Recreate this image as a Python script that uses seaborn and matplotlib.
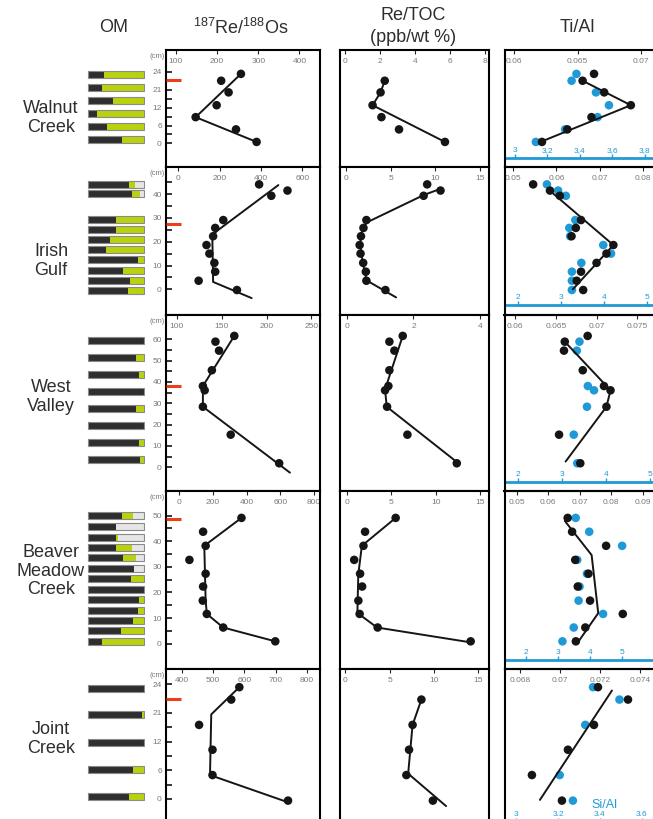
import numpy as np
import matplotlib.pyplot as plt
import seaborn as sns

nan = np.nan

# ---------------- data ----------------
# Walnut Creek
wc_depth = [23.3, 21.0, 17.1, 12.8, 8.8, 4.7, 0.5]
wc_reos = [258, 210, 228, 199, 148, 246, 296]
wc_retoc = [nan, 2.26, 2.02, 1.56, 2.07, 3.08, 5.72]
wc_tial = [0.0663, 0.0654, 0.0671, 0.0692, 0.0661, 0.0642, 0.0622]
wc_sial = [3.38, 3.35, 3.50, 3.58, 3.51, 3.31, 3.13]
wc_reos_fit_x = [258, 148, 296]
wc_reos_fit_d = [23.3, 8.8, 0.5]
wc_retoc_fit_x = [2.26, 2.02, 1.56, 5.72]
wc_retoc_fit_d = [21.0, 17.1, 12.8, 0.5]
wc_tial_fit_x = [0.0654, 0.0692, 0.0622]
wc_tial_fit_d = [21.0, 12.8, 0.7]
wc_om_depth = [23.2, 18.7, 14.5, 10.0, 5.6, 1.2]
wc_om_dark = [0.29, 0.26, 0.44, 0.17, 0.35, 0.60]
wc_om_green = [0.71, 0.74, 0.56, 0.83, 0.65, 0.40]
wc_red = 21.3

# Irish Gulf
ig_depth = [44.1, 41.5, 39.3, 29.1, 25.8, 22.3, 18.6, 15.0, 11.1, 7.4, 3.6, -0.3]
ig_reos = [391, 528, 450, 218, 179, 169, 137, 151, 175, 179, 99, 284]
ig_retoc = [9.1, 10.6, 8.7, 2.26, 1.93, 1.65, 1.5, 1.6, 1.9, 2.2, 2.26, 4.4]
ig_tial = [0.0546, 0.0585, 0.0608, 0.0657, 0.0645, 0.0635, 0.0732, 0.0716, 0.0693, 0.0657, 0.0647, 0.0662]
ig_sial = [2.68, 2.94, 3.12, 3.34, 3.20, 3.22, 3.99, 4.17, 3.48, 3.26, 3.26, 3.26]
ig_reos_fit_x = [484, 190, 165, 169, 355]
ig_reos_fit_d = [43.8, 24.7, 22.5, 3.1, -3.7]
ig_retoc_fit_x = [10.5, 8.7, 2.3, 1.9, 1.6, 1.6, 1.8, 2.1, 2.3, 5.6]
ig_retoc_fit_d = [42.1, 39.6, 28.1, 25.7, 22.2, 18.0, 12.4, 6.7, 3.7, -3.4]
ig_tial_fit_x = [0.0585, 0.0732, 0.0638]
ig_tial_fit_d = [41.4, 18.6, 0.0]
ig_om_depth = [43.9, 40.1, 29.3, 25.0, 20.8, 16.6, 12.4, 8.1, 3.9, -0.3]
ig_om_dark = [0.72, 0.79, 0.50, 0.50, 0.40, 0.32, 0.88, 0.62, 0.75, 0.71]
ig_om_green = [0.12, 0.13, 0.50, 0.50, 0.60, 0.68, 0.12, 0.38, 0.25, 0.29]
ig_red = 27.4

# West Valley
wv_depth = [61.6, 58.9, 54.7, 45.5, 38.1, 36.1, 28.4, 15.3, 1.9]
wv_reos = [164, 143, 147, 139, 129, 131, 129, 160, 214]
wv_retoc = [1.68, 1.28, 1.43, 1.28, 1.25, 1.15, 1.21, 1.82, 3.30]
wv_tial = [0.0689, 0.0661, 0.0660, 0.0683, 0.0709, 0.0717, 0.0712, 0.0654, 0.0680]
wv_sial = [nan, 3.40, 3.34, nan, 3.59, 3.73, 3.57, 3.27, 3.35]
wv_reos_fit_x = [164, 129, 129, 226]
wv_reos_fit_d = [61.6, 38.1, 28.4, -2.5]
wv_retoc_fit_x = [1.68, 1.15, 1.20, 3.30]
wv_retoc_fit_d = [61.6, 36.5, 28.4, 2.5]
wv_tial_fit_x = [0.0661, 0.0717, 0.0712, 0.0662]
wv_tial_fit_d = [58.9, 36.1, 28.4, 2.7]
wv_om_depth = [59.5, 51.6, 43.4, 35.5, 27.5, 19.5, 11.6, 3.6]
wv_om_dark = [1.0, 0.85, 0.90, 1.0, 0.86, 1.0, 0.90, 0.92]
wv_om_green = [0.0, 0.15, 0.10, 0.0, 0.14, 0.0, 0.10, 0.08]
wv_red = 38.0

# Beaver Meadow Creek
bmc_depth = [49.1, 43.7, 38.2, 32.7, 27.3, 22.3, 16.8, 11.6, 6.3, 0.9]
bmc_reos = [370, 143, 158, 62, 158, 143, 141, 165, 262, 570]
bmc_retoc = [5.49, 2.06, 1.88, 0.84, 1.50, 1.73, 1.31, 1.45, 3.47, 13.9]
bmc_tial = [0.0662, 0.0676, 0.0784, 0.0686, 0.0728, 0.0694, 0.0733, 0.0837, 0.0718, 0.0688]
bmc_sial = [3.55, 3.97, 4.99, 3.60, 3.90, 3.67, 3.64, 4.40, 3.49, 3.14]
bmc_reos_fit_x = [370, 150, 158, 165, 262, 570]
bmc_reos_fit_d = [49.1, 38.2, 16.8, 11.6, 6.3, 0.9]
bmc_retoc_fit_x = [5.49, 1.7, 1.3, 1.2, 3.4, 13.9]
bmc_retoc_fit_d = [49.1, 38.2, 27.0, 12.0, 6.3, 0.5]
bmc_tial_fit_x = [0.0653, 0.0738, 0.0759, 0.0696]
bmc_tial_fit_d = [47.9, 34.6, 11.9, 0.8]
bmc_om_depth = [50.0, 45.8, 41.6, 37.7, 33.6, 29.5, 25.4, 21.2, 17.1, 13.0, 9.0, 5.0, 0.8]
bmc_om_dark = [0.61, 0.50, 0.50, 0.50, 0.63, 0.82, 0.76, 1.0, 0.91, 0.89, 0.80, 0.59, 0.26]
bmc_om_green = [0.19, 0.0, 0.04, 0.29, 0.23, 0.0, 0.24, 0.0, 0.09, 0.11, 0.20, 0.41, 0.74]
bmc_red = 48.8

# Joint Creek
jc_depth = [23.4, 20.8, 15.5, 10.3, 5.0, -0.35]
jc_reos = [584, 558, 455, 498, 498, 740]
jc_retoc = [nan, 8.6, 7.6, 7.2, 6.9, 9.9]
jc_tial = [0.0719, 0.0734, 0.0717, 0.0704, 0.0686, 0.0701]
jc_sial = [3.367, 3.493, 3.330, nan, 3.208, 3.271]
jc_reos_fit_x = [584, 494, 490, 740]
jc_reos_fit_d = [23.4, 17.7, 5.0, -0.7]
jc_retoc_fit_x = [8.6, 7.6, 7.1, 11.4]
jc_retoc_fit_d = [20.8, 15.5, 5.3, -1.5]
jc_tial_fit_x = [0.0726, 0.0690]
jc_tial_fit_d = [22.7, -0.2]
jc_om_depth = [23.2, 17.6, 11.9, 6.2, 0.6]
jc_om_dark = [1.0, 0.95, 1.0, 0.80, 0.72]
jc_om_green = [0.0, 0.05, 0.0, 0.20, 0.28]
jc_red = 21.0

site_names = ['Walnut\nCreek', 'Irish\nGulf', 'West\nValley', 'Beaver\nMeadow\nCreek', 'Joint\nCreek']

# depth tick labels (the 3-cm scales are labelled unevenly in the original)
cm3_ticks = list(range(0, 25, 3))
cm3_labels = ['0', '', '6', '', '12', '', '21', '', '24']

# ---------------- table built from the arrays ----------------
sites = [
    dict(name=site_names[0], depth=wc_depth, reos=wc_reos, retoc=wc_retoc, tial=wc_tial, sial=wc_sial,
         reos_fit=(wc_reos_fit_x, wc_reos_fit_d), retoc_fit=(wc_retoc_fit_x, wc_retoc_fit_d),
         tial_fit=(wc_tial_fit_x, wc_tial_fit_d), om=(wc_om_depth, wc_om_dark, wc_om_green), red=wc_red,
         ylim=(-7.9, 31.3), yticks=cm3_ticks, ylabels=cm3_labels,
         reos_lim=(76, 450), reos_ticks=[100, 200, 300, 400],
         retoc_lim=(-0.31, 8.22), retoc_ticks=[0, 2, 4, 6, 8],
         tial_lim=(0.05925, 0.07189), tial_ticks=[0.06, 0.065, 0.07],
         sial_lim=(2.937, 3.925), sial_ticks=[3, 3.2, 3.4, 3.6, 3.8], comma=True, si_pos=0.074,
         top=50, bot=167, label_y=118),
    dict(name=site_names[1], depth=ig_depth, reos=ig_reos, retoc=ig_retoc, tial=ig_tial, sial=ig_sial,
         reos_fit=(ig_reos_fit_x, ig_reos_fit_d), retoc_fit=(ig_retoc_fit_x, ig_retoc_fit_d),
         tial_fit=(ig_tial_fit_x, ig_tial_fit_d), om=(ig_om_depth, ig_om_dark, ig_om_green), red=ig_red,
         ylim=(-10.8, 51.4), yticks=list(range(0, 46, 5)),
         ylabels=[str(t) if t % 10 == 0 else '' for t in range(0, 46, 5)],
         reos_lim=(-58.5, 685), reos_ticks=[0, 200, 400, 600],
         retoc_lim=(-0.71, 16.0), retoc_ticks=[0, 5, 10, 15],
         tial_lim=(0.04796, 0.08517), tial_ticks=[0.05, 0.06, 0.07, 0.08],
         sial_lim=(1.693, 5.426), sial_ticks=[2, 3, 4, 5], comma=False, si_pos=0.068,
         top=167, bot=315, label_y=261),
    dict(name=site_names[2], depth=wv_depth, reos=wv_reos, retoc=wv_retoc, tial=wv_tial, sial=wv_sial,
         reos_fit=(wv_reos_fit_x, wv_reos_fit_d), retoc_fit=(wv_retoc_fit_x, wv_retoc_fit_d),
         tial_fit=(wv_tial_fit_x, wv_tial_fit_d), om=(wv_om_depth, wv_om_dark, wv_om_green), red=wv_red,
         ylim=(-11.1, 71.4), yticks=list(range(0, 61, 5)),
         ylabels=[str(t) if t % 10 == 0 else '' for t in range(0, 61, 5)],
         reos_lim=(87.9, 259.5), reos_ticks=[100, 150, 200, 250],
         retoc_lim=(-0.2, 4.25), retoc_ticks=[0, 2, 4],
         tial_lim=(0.05872, 0.07837), tial_ticks=[0.06, 0.065, 0.07, 0.075],
         sial_lim=(1.70, 5.34), sial_ticks=[2, 3, 4, 5], comma=False, si_pos=0.051,
         top=315, bot=491, label_y=397),
    dict(name=site_names[3], depth=bmc_depth, reos=bmc_reos, retoc=bmc_retoc, tial=bmc_tial, sial=bmc_sial,
         reos_fit=(bmc_reos_fit_x, bmc_reos_fit_d), retoc_fit=(bmc_retoc_fit_x, bmc_retoc_fit_d),
         tial_fit=(bmc_tial_fit_x, bmc_tial_fit_d), om=(bmc_om_depth, bmc_om_dark, bmc_om_green), red=bmc_red,
         ylim=(-9.9, 59.6), yticks=list(range(0, 51, 5)),
         ylabels=[str(t) if t % 10 == 0 else '' for t in range(0, 51, 5)],
         reos_lim=(-76.5, 834.6), reos_ticks=[0, 200, 400, 600, 800],
         retoc_lim=(-0.75, 15.9), retoc_ticks=[0, 5, 10, 15],
         tial_lim=(0.04614, 0.0971), tial_ticks=[0.05, 0.06, 0.07, 0.08, 0.09],
         sial_lim=(1.343, 6.32), sial_ticks=[2, 3, 4, 5], comma=False, si_pos=0.051,
         top=491, bot=669, label_y=571),
    dict(name=site_names[4], depth=jc_depth, reos=jc_reos, retoc=jc_retoc, tial=jc_tial, sial=jc_sial,
         reos_fit=(jc_reos_fit_x, jc_reos_fit_d), retoc_fit=(jc_retoc_fit_x, jc_retoc_fit_d),
         tial_fit=(jc_tial_fit_x, jc_tial_fit_d), om=(jc_om_depth, jc_om_dark, jc_om_green), red=jc_red,
         ylim=(-6.5, 27.2), yticks=cm3_ticks, ylabels=cm3_labels,
         reos_lim=(349, 842.5), reos_ticks=[400, 500, 600, 700, 800],
         retoc_lim=(-0.62, 16.2), retoc_ticks=[0, 5, 10, 15],
         tial_lim=(0.06723, 0.07525), tial_ticks=[0.068, 0.07, 0.072, 0.074],
         sial_lim=(2.945, 3.71), sial_ticks=[3, 3.2, 3.4, 3.6], comma=False, si_pos=0.05,
         top=669, bot=830, label_y=739),
]

# ---------------- style ----------------
sns.set_theme(style='ticks')
plt.rcParams['font.family'] = ['Liberation Sans', 'DejaVu Sans']
plt.rcParams['mathtext.default'] = 'regular'

BLACK = '#151515'
BLUE = '#1f9ad6'
RED = '#e8401c'
DARK = '#2e2e2e'
GREEN = '#b9d10e'
LIGHT = '#e6e6e6'
GREY_TXT = '#7a7a7a'
TXT = '#2e2e2e'

W, H = 653, 819
fig = plt.figure(figsize=(W / 100, H / 100), dpi=100)


def add_box(x0, x1, y0, y1):
    return fig.add_axes([x0 / W, 1 - y1 / H, (x1 - x0) / W, (y1 - y0) / H])


def frame(ax):
    for sp in ax.spines.values():
        sp.set_visible(True)
        sp.set_color('black')
        sp.set_linewidth(1.5)


def top_ticks(ax, lim, ticks):
    ax.set_xlim(*lim)
    ax.xaxis.tick_top()
    ax.set_xticks(ticks, labels=[f'{t:g}' for t in ticks])
    ax.tick_params(axis='x', direction='in', length=3, width=0.8, pad=-10.5,
                   labelsize=6, labelcolor=GREY_TXT, top=True, bottom=False)
    ax.tick_params(axis='y', left=False, right=False, labelleft=False)
    ax.set_xlabel('')
    ax.set_ylabel('')


def dots(ax, x, d, color):
    sns.scatterplot(x=x, y=d, ax=ax, color=color, s=38, edgecolor='none', legend=False, zorder=4)


def trend(ax, x, d):
    sns.lineplot(x=x, y=d, ax=ax, sort=False, estimator=None, color=BLACK, linewidth=1.4, zorder=3)


for s in sites:
    y0, y1 = s['top'], s['bot']

    # OM bars
    ax_om = add_box(87, 145, y0, y1)
    om_d, om_dark, om_green = s['om']
    om_light = [1 - a - b for a, b in zip(om_dark, om_green)]
    px_h = (s['ylim'][1] - s['ylim'][0]) / (y1 - y0)
    bh = 7 * px_h
    ax_om.barh(om_d, om_dark, height=bh, left=0, color=DARK, linewidth=0)
    ax_om.barh(om_d, om_green, height=bh, left=om_dark, color=GREEN, linewidth=0)
    ax_om.barh(om_d, om_light, height=bh, left=[a + b for a, b in zip(om_dark, om_green)],
               color=LIGHT, linewidth=0)
    ax_om.barh(om_d, [1] * len(om_d), height=bh, left=0, facecolor='none', edgecolor='#8a8a8a', linewidth=0.8)
    ax_om.set_xlim(-0.01, 1.01)
    ax_om.set_ylim(*s['ylim'])
    ax_om.axis('off')

    # Re/Os
    ax_re = add_box(166, 320, y0, y1)
    trend(ax_re, *s['reos_fit'])
    dots(ax_re, s['reos'], s['depth'], BLACK)
    frame(ax_re)
    top_ticks(ax_re, s['reos_lim'], s['reos_ticks'])
    ax_re.set_ylim(*s['ylim'])
    ax_re.set_yticks(s['yticks'], labels=s['ylabels'])
    ax_re.tick_params(axis='y', direction='in', left=True, labelleft=True, length=4, width=1.3,
                      pad=3, labelsize=6, labelcolor=GREY_TXT)
    ax_re.annotate('(cm)', xy=(0, 1), xycoords='axes fraction', xytext=(-1, -2),
                   textcoords='offset points', ha='right', va='top', fontsize=5.5, color=GREY_TXT)
    ax_re.plot([0, 0.1], [s['red'], s['red']], color=RED, linewidth=2.2,
               transform=ax_re.get_yaxis_transform(), zorder=5, solid_capstyle='butt')

    # Re/TOC
    ax_toc = add_box(340, 488.5, y0, y1)
    trend(ax_toc, *s['retoc_fit'])
    dots(ax_toc, s['retoc'], s['depth'], BLACK)
    frame(ax_toc)
    top_ticks(ax_toc, s['retoc_lim'], s['retoc_ticks'])
    ax_toc.set_ylim(*s['ylim'])

    # Ti/Al with Si/Al twin
    ax_ti = add_box(504.5, 665, y0, y1)
    ax_si = ax_ti.twiny()
    ax_ti.set_zorder(ax_si.get_zorder() + 1)
    ax_ti.patch.set_visible(False)

    dots(ax_si, s['sial'], s['depth'], BLUE)
    ax_si.set_xlim(*s['sial_lim'])
    ax_si.set_ylim(*s['ylim'])
    for side in ('top', 'left', 'right'):
        ax_si.spines[side].set_visible(False)
    ax_si.spines['bottom'].set_visible(True)
    ax_si.spines['bottom'].set_position(('axes', s['si_pos']))
    ax_si.spines['bottom'].set_color(BLUE)
    ax_si.spines['bottom'].set_linewidth(2)
    ax_si.xaxis.set_ticks_position('bottom')
    lab = [f'{t:g}'.replace('.', ',') if s['comma'] else f'{t:g}' for t in s['sial_ticks']]
    ax_si.set_xticks(s['sial_ticks'], labels=lab)
    ax_si.tick_params(axis='x', direction='in', length=3, width=1, color=BLUE, labelcolor=BLUE,
                      labelsize=6, pad=-8, bottom=True, top=False, labelbottom=True, labeltop=False)
    ax_si.tick_params(axis='y', left=False, right=False, labelleft=False, labelright=False)
    ax_si.set_xlabel('')
    ax_si.set_ylabel('')

    trend(ax_ti, *s['tial_fit'])
    dots(ax_ti, s['tial'], s['depth'], BLACK)
    frame(ax_ti)
    top_ticks(ax_ti, s['tial_lim'], s['tial_ticks'])
    ax_ti.set_ylim(*s['ylim'])

    fig.text(51 / W, 1 - s['label_y'] / H, s['name'], ha='center', va='center',
             fontsize=13, color=TXT, linespacing=1.1)

# column headers
fig.text(114 / W, 1 - 28 / H, 'OM', ha='center', va='center', fontsize=13, color=TXT)
fig.text(241 / W, 1 - 28 / H, r'$^{187}$Re/$^{188}$Os', ha='center', va='center', fontsize=13, color=TXT)
fig.text(413 / W, 1 - 15 / H, 'Re/TOC', ha='center', va='center', fontsize=13, color=TXT)
fig.text(413 / W, 1 - 37 / H, '(ppb/wt %)', ha='center', va='center', fontsize=13, color=TXT)
fig.text(577 / W, 1 - 28 / H, 'Ti/Al', ha='center', va='center', fontsize=13, color=TXT)
fig.text(604 / W, 1 - 805 / H, 'Si/Al', ha='center', va='center', fontsize=9, color=BLUE)

fig.savefig('out.png', dpi=100)
